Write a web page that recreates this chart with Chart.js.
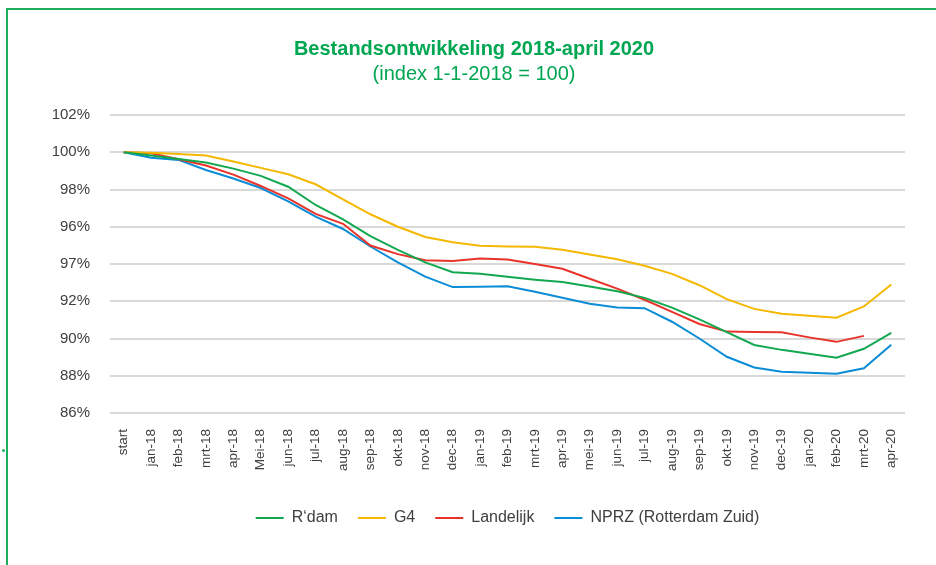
<!DOCTYPE html>
<html>
<head>
<meta charset="utf-8">
<script src="https://cdn.jsdelivr.net/npm/chart.js@4/dist/chart.umd.min.js"></script>
<style>
  html, body { margin: 0; padding: 0; background: #ffffff; }
  body { width: 936px; height: 565px; position: relative; overflow: hidden; }
  #frame { position: absolute; left: 6px; top: 8px; width: 1000px; height: 700px;
           border-left: 2px solid #1DB05C; border-top: 2px solid #1DB05C; box-sizing: border-box; }
  #dot { position: absolute; left: 2px; top: 449px; width: 3px; height: 3px; border-radius: 50%; background: #1DB05C; }
  #wrap { position: absolute; left: 12px; top: 0px; width: 924px; height: 565px; }
</style>
</head>
<body>
<div id="frame"></div>
<div id="dot"></div>
<div id="wrap"><canvas id="c"></canvas></div>
<script>
const categories = ['start','jan-18','feb-18','mrt-18','apr-18','Mei-18','jun-18','jul-18','aug-18','sep-18','okt-18','nov-18','dec-18','jan-19','feb-19','mrt-19','apr-19','mei-19','jun-19','jul-19','aug-19','sep-19','okt-19','nov-19','dec-19','jan-20','feb-20','mrt-20','apr-20'];

const rdam = [100, 99.83, 99.64, 99.45, 99.12, 98.73, 98.15, 97.17, 96.39, 95.50, 94.76, 94.09, 93.56, 93.47, 93.31, 93.16, 93.03, 92.79, 92.54, 92.18, 91.66, 91.03, 90.34, 89.65, 89.39, 89.18, 88.97, 89.45, 90.30];
const g4 = [100, 99.97, 99.90, 99.82, 99.50, 99.16, 98.82, 98.28, 97.47, 96.67, 96.00, 95.45, 95.17, 94.98, 94.94, 94.92, 94.77, 94.51, 94.25, 93.91, 93.47, 92.86, 92.11, 91.59, 91.33, 91.22, 91.12, 91.72, 92.90];
const landelijk = [100, 99.95, 99.62, 99.29, 98.80, 98.19, 97.52, 96.69, 96.16, 94.99, 94.53, 94.20, 94.16, 94.30, 94.24, 94.00, 93.74, 93.21, 92.68, 92.08, 91.43, 90.78, 90.37, 90.35, 90.33, 90.06, 89.82, 90.14, null];
const nprz = [100, 99.71, 99.59, 99.05, 98.59, 98.08, 97.36, 96.54, 95.88, 94.94, 94.09, 93.32, 92.76, 92.78, 92.80, 92.51, 92.19, 91.87, 91.66, 91.63, 90.90, 90.00, 89.02, 88.44, 88.21, 88.16, 88.11, 88.40, 89.67];

const yTickLabels = ['86%','88%','90%','92%','97%','96%','98%','100%','102%'];

const FONT = '"Liberation Sans", Arial, sans-serif';
const TXT = '#404040';

function ds(label, data, color) {
  return { label, data, borderColor: color, backgroundColor: color, borderWidth: 2,
           pointRadius: 0, pointHoverRadius: 0, pointStyle: 'line', tension: 0, fill: false, spanGaps: false };
}

new Chart(document.getElementById('c'), {
  type: 'line',
  data: {
    labels: categories,
    datasets: [
      ds('R\u2018dam', rdam, '#12A84F'),
      ds('G4', g4, '#F5B800'),
      ds('Landelijk', landelijk, '#E8332A'),
      ds('NPRZ (Rotterdam Zuid)', nprz, '#0A8CD6')
    ]
  },
  options: {
    responsive: true,
    maintainAspectRatio: false,
    animation: false,
    layout: { padding: { left: 31, right: 31, top: 0, bottom: 29 } },
    plugins: {
      title: {
        display: true,
        text: 'Bestandsontwikkeling 2018-april 2020',
        color: '#00A651',
        font: { family: FONT, size: 20, weight: 'bold' },
        padding: { top: 37, bottom: 0 }
      },
      subtitle: {
        display: true,
        text: '(index 1-1-2018 = 100)',
        color: '#00A651',
        font: { family: FONT, size: 20, weight: 'normal' },
        padding: { top: 1, bottom: 29 }
      },
      legend: {
        display: true,
        position: 'bottom',
        fullSize: false,
        labels: {
          usePointStyle: true,
          pointStyleWidth: 28,
          boxWidth: 28,
          padding: 20,
          color: TXT,
          font: { family: FONT, size: 16 }
        }
      },
      tooltip: { enabled: false }
    },
    scales: {
      x: {
        offset: true,
        grid: { display: false, drawTicks: false },
        border: { display: false },
        ticks: { minRotation: 90, maxRotation: 90, autoSkip: false, padding: 16, color: TXT,
                 font: { family: FONT, size: 13.5 } },
        afterFit: (s) => { s.height = 77; }
      },
      y: {
        min: 86, max: 102,
        grid: { color: '#D9D9D9', lineWidth: 2, drawTicks: false },
        border: { display: false },
        ticks: { stepSize: 2, padding: 20, color: TXT, font: { family: FONT, size: 15 },
                 callback: (v, i) => yTickLabels[i] },
        afterFit: (s) => { s.width = 67; }
      }
    }
  }
});
</script>
</body>
</html>
